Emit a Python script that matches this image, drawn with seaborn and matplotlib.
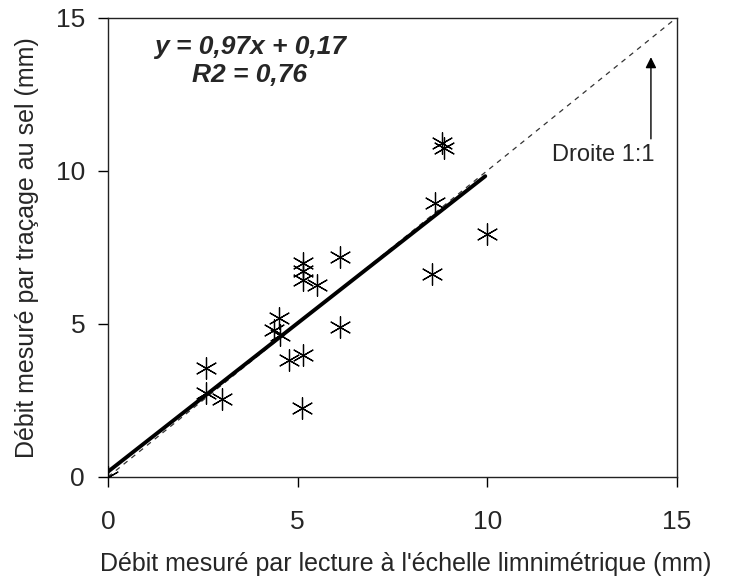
import matplotlib
matplotlib.use('Agg')
import matplotlib.pyplot as plt
import seaborn as sns
import numpy as np
import pandas as pd

# debits mesures (mm)
lecture_echelle = [0.0, 2.58, 2.58, 3.01, 4.52, 4.38, 4.53, 4.78, 5.13, 5.11,
                   5.13, 5.13, 5.13, 5.50, 6.13, 6.12, 8.54, 8.62, 8.80, 8.85, 10.0]
tracage_sel = [0.0, 3.57, 2.73, 2.54, 5.19, 4.80, 4.64, 3.82, 3.99, 2.24,
               6.98, 6.71, 6.44, 6.27, 7.18, 4.91, 6.63, 8.94, 10.90, 10.75, 7.93]

pente, ordonnee = 0.97, 0.17
x_regression = [0.0, 9.95]
x_droite = [0.0, 15.0]
ticks = [0, 5, 10, 15]

df = pd.DataFrame({'x': lecture_echelle, 'y': tracage_sel})

sns.set_style('ticks')
plt.rcParams['font.family'] = ['Liberation Sans', 'DejaVu Sans']

fig = plt.figure(figsize=(7.3, 5.88), dpi=100)
ax = fig.add_axes([0.148, 0.189, 0.779, 0.781])

# droite 1:1
sns.lineplot(x=x_droite, y=x_droite, ax=ax, color='#333333', linewidth=0.9,
             linestyle=(0, (4, 4)))
# droite de regression
sns.lineplot(x=x_regression, y=[pente * v + ordonnee for v in x_regression], ax=ax,
             color='black', linewidth=2.8)
sns.scatterplot(data=df, x='x', y='y', ax=ax, marker=(6, 2, 0), s=240,
                color='black', linewidth=0.9, zorder=3)

ax.set_xlim(0, 15)
ax.set_ylim(0, 15)
ax.set_xticks(ticks)
ax.set_yticks(ticks)
ax.tick_params(direction='out', length=7.5, width=1, labelsize=19, color='black')
ax.tick_params(axis='x', pad=16)
ax.tick_params(axis='y', pad=9)
for s in ax.spines.values():
    s.set_color('#222222')
    s.set_linewidth(1)

ax.set_xlabel("Débit mesuré par lecture à l'échelle limnimétrique (mm)", fontsize=18)
ax.xaxis.set_label_coords(0.524, -0.163)
ax.set_ylabel("Débit mesuré par traçage au sel (mm)", fontsize=18, labelpad=12)

ax.text(3.74, 14.05, 'y = 0,97x + 0,17', fontsize=19, fontweight='bold', fontstyle='italic',
        ha='center', va='center')
ax.text(3.74, 13.14, 'R2 = 0,76', fontsize=19, fontweight='bold', fontstyle='italic',
        ha='center', va='center')

ax.annotate('', xy=(14.32, 13.8), xytext=(14.32, 10.95),
            arrowprops=dict(arrowstyle='-|>', color='black', lw=1, mutation_scale=16))
ax.text(13.05, 10.52, 'Droite 1:1', fontsize=17, ha='center', va='center')

fig.savefig('out.png', dpi=100)
